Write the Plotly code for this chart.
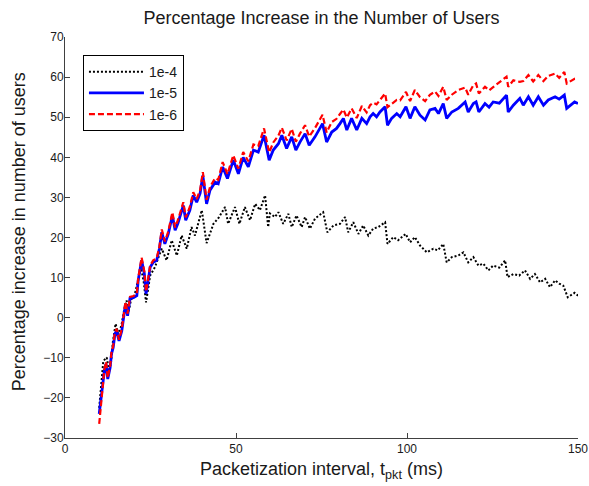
import plotly.graph_objects as go

# ---- data ----
# series 1e-5 and 1e-6 share x positions
x_lo = [10, 10.9, 11.5, 12.0, 12.5, 13.2, 13.6, 14.1, 14.6, 15.1,
        15.8, 16.6, 17.3, 17.7, 18.3, 19.0, 20.0, 21.0, 21.4, 22.4,
        23.2, 23.7, 24.2, 24.9, 25.8, 26.8, 27.6, 28.3, 29.2, 30.2,
        31.4, 32.2, 33.0, 34.6, 35.3, 36.5, 37.5, 38.5, 39.5, 40.3,
        41.4, 42.4, 43.9, 44.8, 46.1, 47.5, 49.2, 50.7, 52.1, 53.6,
        55.1, 56.5, 58.2, 59.7, 60.9, 62.4, 63.4, 64.8, 66.3, 67.5,
        68.7, 70.2, 71.4, 73.1, 75.3, 76.5, 78.0, 79.4, 80.4, 81.4,
        82.4, 83.8, 85.3, 86.8, 88.2, 89.2, 90.1, 91.1, 92.1, 93.6,
        94.3, 95.5, 97.0, 98.0, 99.7, 100.9, 102.3, 103.8, 105.3, 106.7,
        108.2, 109.2, 110.6, 111.6, 113.1, 115.0, 117.0, 117.9, 119.4, 120.2,
        121.0, 122.8, 124.0, 125.2, 127.0, 129.1, 129.6, 131.1, 133.0, 134.0,
        135.5, 136.9, 138.4, 139.9, 141.3, 143.3, 144.5, 146.0, 146.7, 148.2,
        149.0, 150.0]

y_1e5 = [-24, -17.4, -13.3, -11.5, -15.3, -12.4, -9, -7.4, -4, -3.3,
         -5.8, -3.3, 1, 3.5, 0.5, 4.8, 5, 5.5, 9.3, 14.3,
         11, 6, 8.5, 12.6, 13.8, 14.3, 17.2, 21.3, 18.4, 20.9,
         25.5, 21.8, 23.5, 28, 24.3, 26.8, 30.5, 28.8, 31, 35.5,
         28.4, 31.8, 33.8, 33.4, 37.6, 34.7, 39.3, 35.9, 40, 37.6,
         41.8, 41.3, 45.5, 39.3, 41.8, 43.4, 45.5, 42.2, 45.1, 41.8,
         43.8, 45.9, 43, 45.1, 48.4, 43.8, 46.3, 47.2, 48.4, 49.7,
         46.8, 49.7, 46.8, 49.7, 48.4, 50.1, 50.9, 50.1, 51.3, 52.6,
         48, 49.7, 50.9, 50.1, 52.6, 49.7, 52.6, 50.5, 49.3, 51.8,
         52.2, 50.9, 53.4, 49.7, 51.3, 52.2, 53.8, 51.3, 53.4, 53.8,
         51.3, 53.4, 52.5, 53.8, 53.5, 55.5, 51.3, 53, 54.7, 53,
         55.1, 53, 55.1, 53, 54.3, 55.1, 54.5, 55.5, 52.2, 53.4,
         53.8, 53.4]

y_1e6 = [-26.5, -18, -13, -11, -15, -12, -8.5, -7, -3.5, -2.8,
         -5.5, -2.8, 1.5, 4, 1, 5.2, 5.4, 6, 9.8, 15,
         11.5, 6.5, 9, 13, 14.3, 14.8, 17.7, 22, 19, 21.5,
         26.3, 22.5, 24.3, 28.8, 25, 27.6, 31.3, 29.6, 31.8, 36.3,
         29.4, 32.6, 34.8, 34.4, 38.8, 35.8, 40.5, 37.2, 41.3, 39,
         43.2, 42.8, 47.2, 41.2, 43.7, 45.4, 47.4, 44.2, 47.1, 43.9,
         45.9, 48, 45.2, 47.3, 50.6, 46.2, 48.8, 49.6, 50.8, 51.9,
         49.9, 52.2, 49.8, 52.8, 51.2, 53, 53.6, 53.2, 54.3, 55.9,
         52.5, 53.4, 54.3, 54.2, 56.3, 54, 56.8, 55, 54, 55.6,
         56.4, 55.3, 57.6, 54.3, 55.6, 56.8, 57.4, 55.6, 58, 58.4,
         55.9, 57.6, 56.7, 57.5, 58.8, 60.1, 57.6, 59.2, 58.8, 59,
         60.5, 58.9, 60.5, 59, 60.3, 60.9, 59.8, 61.3, 58.4, 59.3,
         59.6, 59.7]

x_1e4 = [10, 10.5, 11.2, 12.2, 12.8, 13.4, 14.0, 14.8, 15.5, 16.5,
         17.3, 18.0, 18.6, 19.3, 20.3, 21.3, 22.2, 23.0, 23.7, 24.9,
         26.3, 27.3, 28.3, 29.7, 31.2, 32.7, 34.1, 35.6, 37.0, 38.0,
         40.0, 41.4, 43.4, 45.0, 46.8, 47.7, 49.7, 51.0, 52.6, 54.1,
         55.6, 57.0, 58.5, 59.4, 59.9, 61.4, 62.4, 63.8, 65.3, 66.3,
         67.7, 69.2, 70.2, 71.6, 73.1, 75.5, 76.7, 78.5, 80.4, 81.9,
         82.8, 84.3, 85.8, 87.2, 88.7, 90.1, 91.6, 93.6, 94.3, 96.0,
         97.4, 99.6, 100.9, 102.3, 103.8, 105.8, 107.7, 109.0, 110.6, 111.6,
         113.1, 115.0, 116.5, 117.9, 119.4, 120.9, 122.3, 123.8, 125.2, 127.0,
         128.7, 129.4, 131.1, 132.8, 134.5, 136.0, 137.4, 138.9, 140.4, 141.8,
         143.3, 144.5, 145.7, 147.0, 148.2, 149.0, 150.0]

y_1e4 = [-22.5, -17, -10.8, -9.9, -13, -11.5, -6, -1.5, -4, -2,
         2, 4.3, 1.5, 4.5, 5.5, 9, 12.5, 9, 3.8, 10.5,
         12.6, 15, 17.2, 14.3, 19.3, 15.5, 20.5, 17.2, 22.6, 20.5,
         26.8, 18.6, 23.4, 25, 27.6, 23.4, 27.6, 23.4, 27.6, 24.3,
         28.4, 26.8, 30.5, 22.6, 26, 25.1, 26.3, 23.4, 25.9, 22.6,
         25.5, 22.6, 25.1, 22.2, 24.7, 26.3, 21.3, 23, 23.4, 25.1,
         21.3, 23.8, 20.9, 23, 20.5, 22.2, 22.6, 23.8, 18.4, 20.1,
         19.3, 20.9, 18.8, 20.1, 18, 16.3, 17.2, 16.8, 18.4, 13.8,
         15.1, 15.5, 16.3, 13.8, 15.1, 13, 13.5, 11.8, 13, 12.5,
         14.3, 10.1, 10.9, 10.5, 11.8, 9.7, 10.9, 8.8, 9.7, 7.6,
         9.3, 8.5, 8, 5.1, 5.9, 6.2, 5.5]

series_names = ["1e-4", "1e-5", "1e-6"]
x_ticks = [0, 50, 100, 150]
y_ticks = [-30, -20, -10, 0, 10, 20, 30, 40, 50, 60, 70]

FONT = "Liberation Sans, Arial, sans-serif"
TXT = "#1a1a1a"

fig = go.Figure()
fig.add_trace(go.Scatter(x=x_1e4, y=y_1e4, mode="lines", name=series_names[0],
                         line=dict(color="#000000", width=2, dash="2px,2px")))
fig.add_trace(go.Scatter(x=x_lo, y=y_1e5, mode="lines", name=series_names[1],
                         line=dict(color="#0000FF", width=2.8)))
fig.add_trace(go.Scatter(x=x_lo, y=y_1e6, mode="lines", name=series_names[2],
                         line=dict(color="#FF0000", width=2.2, dash="6px,3px")))

axis_common = dict(showgrid=False, zeroline=False, showline=True, linecolor="#404040",
                   linewidth=1, ticks="inside", ticklen=5, tickcolor="#404040",
                   mirror=False, automargin=False,
                   tickfont=dict(family=FONT, size=12, color=TXT))

fig.update_layout(
    width=589, height=486,
    margin=dict(l=65, r=11, t=37, b=48, autoexpand=False),
    paper_bgcolor="white", plot_bgcolor="white",
    title=dict(text="Percentage Increase in the Number of Users",
               x=0.5, xref="paper", y=1 - 18 / 486, yref="container",
               xanchor="center", yanchor="middle", automargin=False,
               font=dict(family=FONT, size=18, color=TXT)),
    xaxis=dict(range=[0, 150], tickvals=x_ticks, **axis_common),
    yaxis=dict(range=[-30, 70], tickvals=y_ticks, ticklabelstandoff=-2, **axis_common),
    showlegend=True,
    legend=dict(x=0.035, y=0.955, xanchor="left", yanchor="top",
                bgcolor="white", bordercolor="#000000", borderwidth=1,
                itemwidth=55, tracegroupgap=0,
                font=dict(family=FONT, size=14, color=TXT)),
    annotations=[
        dict(text="Packetization interval, t<sub>pkt</sub> (ms)", x=0.5, y=-0.048,
             xref="paper", yref="paper", xanchor="center", yanchor="top",
             showarrow=False, font=dict(family=FONT, size=18, color=TXT)),
        dict(text="Percentage increase in number of users", x=-0.088, y=0.515,
             xref="paper", yref="paper", xanchor="center", yanchor="middle",
             textangle=-90, showarrow=False,
             font=dict(family=FONT, size=18, color=TXT)),
    ],
)

fig.write_html("out.html")
